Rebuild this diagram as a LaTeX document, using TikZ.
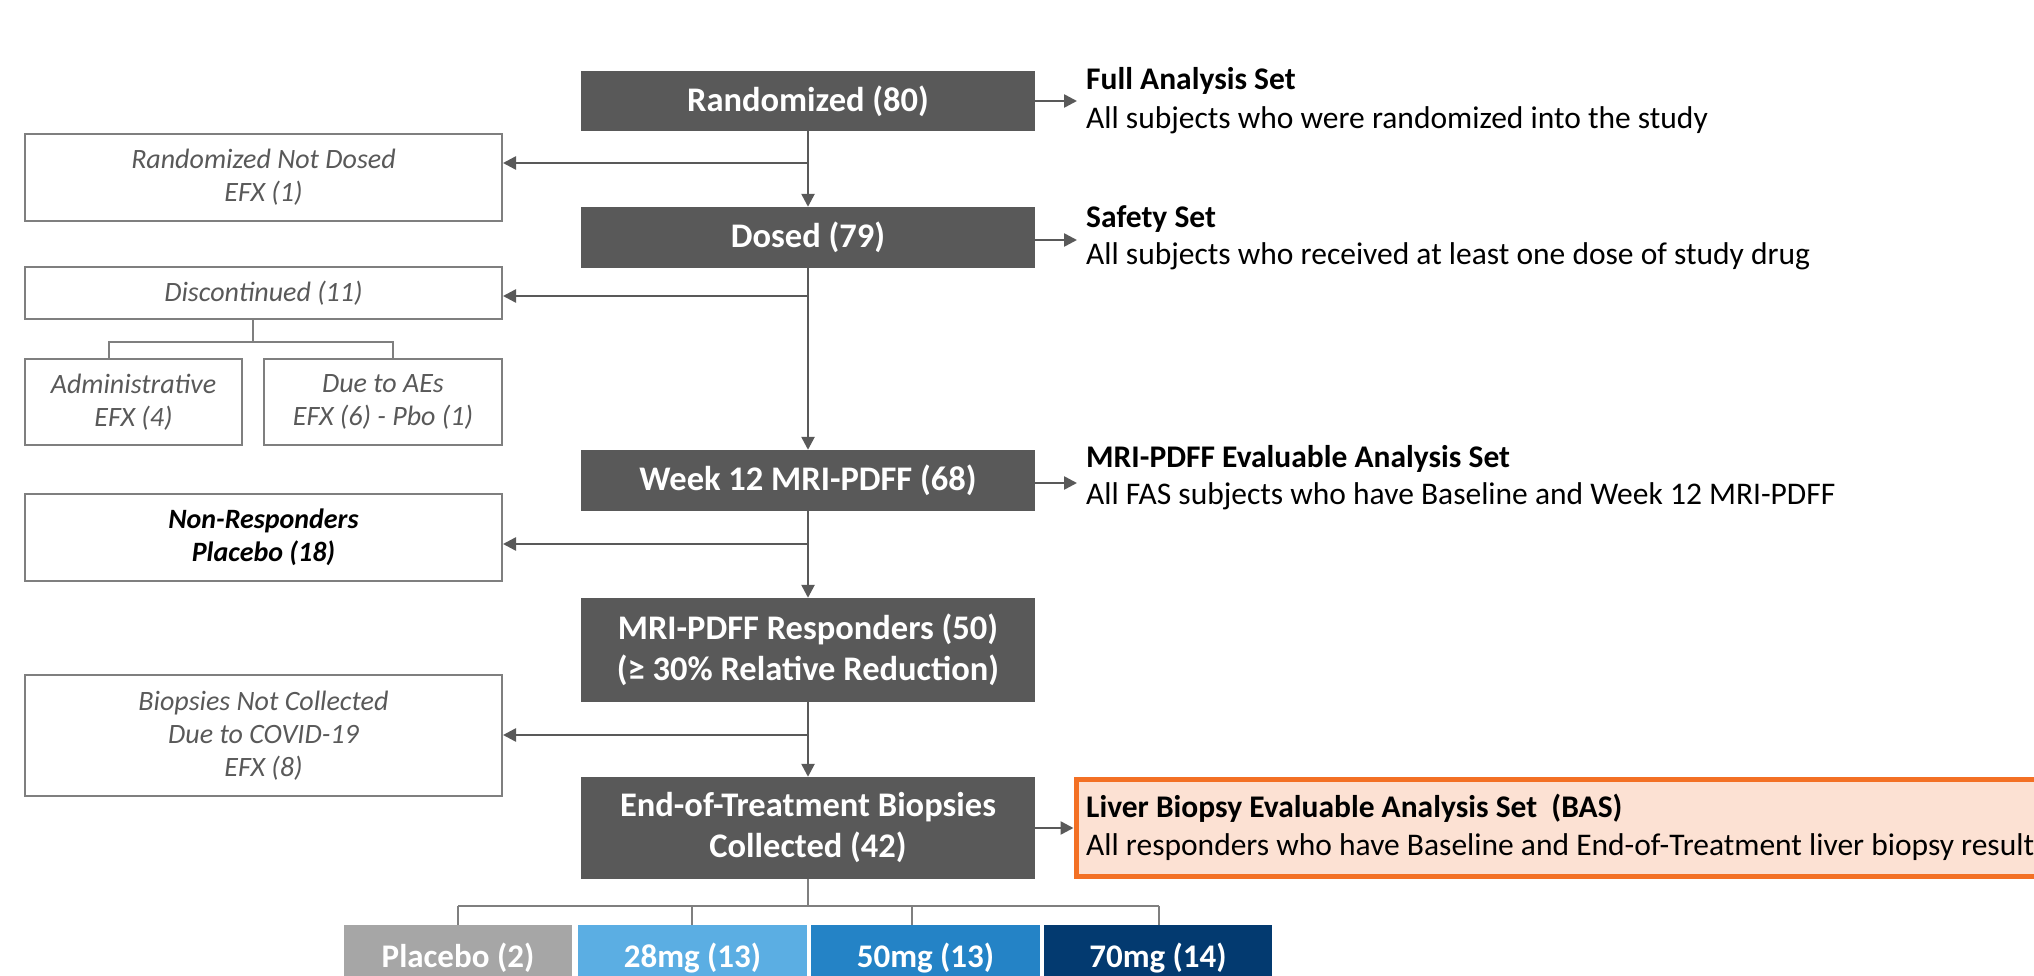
\documentclass[tikz,border=0pt]{standalone}
\usepackage{fontspec}
\setmainfont{Carlito}
\usetikzlibrary{arrows.meta}
\definecolor{dk}{HTML}{595959}
\definecolor{lgray}{HTML}{7F7F7F}
\definecolor{tgray}{HTML}{595959}
\definecolor{orng}{HTML}{F37024}
\definecolor{peach}{HTML}{FCE1D3}
\definecolor{cpl}{HTML}{A6A6A6}
\definecolor{c28}{HTML}{5BAEE3}
\definecolor{c50}{HTML}{2483C6}
\definecolor{c70}{HTML}{033A70}
\tikzset{
  darkbox/.style={fill=dk, text=white, minimum width=454pt, inner sep=0pt, align=center,
    font=\fontsize{34.5}{41}\selectfont\bfseries},
  leftbox/.style={draw=lgray, line width=2pt, fill=white, inner sep=0pt, align=center,
    text=tgray, font=\fontsize{28}{33}\selectfont\itshape},
  arr/.style={draw=dk, line width=2.5pt, -{Triangle[length=13pt,width=13pt]}},
  tree/.style={draw=lgray, line width=1.5pt},
  settitle/.style={anchor=base west, inner sep=0pt, font=\fontsize{31.5}{38}\selectfont\bfseries},
  setdesc/.style={anchor=base west, inner sep=0pt, font=\fontsize{31.5}{38}\selectfont},
  dosebox/.style={inner sep=0pt, minimum height=66pt, text=white,
    font=\fontsize{33}{40}\selectfont\bfseries}
}
\begin{document}
\begin{tikzpicture}[x=1pt,y=-1pt]
\useasboundingbox (0,0) rectangle (2034,976);
\clip (0,0) rectangle (2034,976);
\fill[white] (0,0) rectangle (2034,976);

% main column
\node[darkbox, minimum height=60pt] (rand) at (808,101) {Randomized (80)};
\node[darkbox, minimum height=61pt] (dosed) at (808,237.5) {Dosed (79)};
\node[darkbox, minimum height=61pt] (wk12) at (808,480.5) {Week 12 MRI-PDFF (68)};
\node[darkbox, minimum height=104pt] (resp) at (808,650) {MRI-PDFF Responders (50)\\(≥ 30\% Relative Reduction)};
\node[darkbox, minimum height=102pt] (eot) at (808,828) {End-of-Treatment Biopsies\\Collected (42)};

% left boxes
\node[leftbox, minimum width=477pt, minimum height=87pt] (rnd) at (263.5,177.5) {Randomized Not Dosed\\EFX (1)};
\node[leftbox, minimum width=477pt, minimum height=52pt] (disc) at (263.5,293) {Discontinued (11)};
\node[leftbox, minimum width=217pt, minimum height=86pt] (adm) at (133.5,402) {Administrative\\EFX (4)};
\node[leftbox, minimum width=238pt, minimum height=86pt] (aes) at (383,402) {Due to AEs\\EFX (6) - Pbo (1)};
\node[leftbox, minimum width=477pt, minimum height=87pt, text=black,
  font=\fontsize{28}{33}\selectfont\bfseries\itshape] (nonr) at (263.5,537.5) {Non-Responders\\Placebo (18)};
\node[leftbox, minimum width=477pt, minimum height=121pt] (bnc) at (263.5,735.5) {Biopsies Not Collected\\Due to COVID-19\\EFX (8)};

% vertical arrows
\draw[arr] (rand.south) -- (dosed.north);
\draw[arr] (dosed.south) -- (wk12.north);
\draw[arr] (wk12.south) -- (resp.north);
\draw[arr] (resp.south) -- (eot.north);

% left arrows
\coordinate (j1) at (808,163);
\coordinate (j2) at (808,296);
\coordinate (j3) at (808,544);
\coordinate (j4) at (808,735);
\draw[arr] (j1) -- (rnd.east |- j1);
\draw[arr] (j2) -- (disc.east |- j2);
\draw[arr] (j3) -- (nonr.east |- j3);
\draw[arr] (j4) -- (bnc.east |- j4);

% discontinued tree
\coordinate (tm) at (253,342);
\coordinate (ta) at (109,342);
\coordinate (tb) at (393,342);
\draw[tree] (tm |- disc.south) -- (tm);
\draw[tree] (ta |- adm.north) -- (ta) -- (tb) -- (tb |- aes.north);

% right texts
\node[settitle] (fas) at (1086,90) {Full Analysis Set};
\node[setdesc] (fasd) at (1086,129) {All subjects who were randomized into the study};
\node[settitle] (ss) at (1086,228) {Safety Set};
\node[setdesc] (ssd) at (1086,265) {All subjects who received at least one dose of study drug};
\node[settitle] (mes) at (1086,467) {MRI-PDFF Evaluable Analysis Set};
\node[setdesc] (mesd) at (1086,504) {All FAS subjects who have Baseline and Week 12 MRI-PDFF};
\coordinate (fa) at (1077,101);
\coordinate (fb) at (1077,240);
\coordinate (fc) at (1077,483);
\draw[arr] (rand.east |- fa) -- (fa);
\draw[arr] (dosed.east |- fb) -- (fb);
\draw[arr] (wk12.east |- fc) -- (fc);

% BAS box
\node[draw=orng, fill=peach, line width=5pt, minimum width=1000pt, minimum height=97pt,
  anchor=west, inner sep=0pt] (bas) at (1073.5,828) {};
\node[settitle] (bast) at (1086,817) {Liver Biopsy Evaluable Analysis Set\ \ (BAS)};
\node[setdesc] (basd) at (1086,855) {All responders who have Baseline and End-of-Treatment liver biopsy results};
\draw[arr] (eot.east) -- (bas.west);

% dose boxes
\node[dosebox, fill=cpl, minimum width=228pt] (pl) at (458,958) {Placebo (2)};
\node[dosebox, fill=c28, minimum width=229pt] (d28) at (692.5,958) {28mg (13)};
\node[dosebox, fill=c50, minimum width=229pt] (d50) at (925.5,958) {50mg (13)};
\node[dosebox, fill=c70, minimum width=228pt] (d70) at (1158,958) {70mg (14)};

% eot tree
\coordinate (bt) at (808,906);
\coordinate (b1) at (458,906);
\coordinate (b2) at (692,906);
\coordinate (b3) at (912,906);
\coordinate (b4) at (1159,906);
\draw[tree] (eot.south) -- (bt);
\draw[tree] (b1) -- (b4);
\draw[tree] (b1) -- (b1 |- pl.north);
\draw[tree] (b2) -- (b2 |- d28.north);
\draw[tree] (b3) -- (b3 |- d50.north);
\draw[tree] (b4) -- (b4 |- d70.north);
\end{tikzpicture}
\end{document}
